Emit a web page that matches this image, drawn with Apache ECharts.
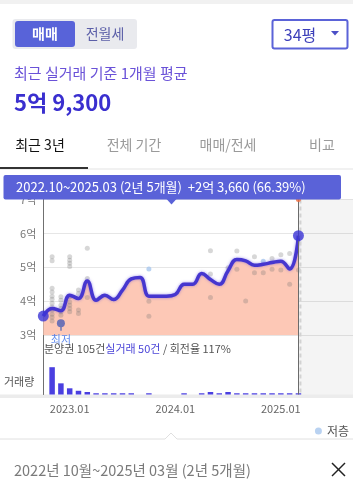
<!DOCTYPE html>
<html>
<head>
<meta charset="utf-8">
<script src="https://cdn.jsdelivr.net/npm/echarts@6/dist/echarts.min.js"></script>
<style>
html, body { margin: 0; padding: 0; background: #fff; }
#chart { width: 353px; height: 497px; }
</style>
</head>
<body>
<div id="chart"></div>
<script>
var FONT = "'Noto Sans CJK KR', 'Noto Sans', sans-serif";

// 월 (2022.10 ~ 2025.03)
var months = ['2022.10', '2022.11', '2022.12',
    '2023.01', '2023.02', '2023.03', '2023.04', '2023.05', '2023.06', '2023.07', '2023.08', '2023.09', '2023.10', '2023.11', '2023.12',
    '2024.01', '2024.02', '2024.03', '2024.04', '2024.05', '2024.06', '2024.07', '2024.08', '2024.09', '2024.10', '2024.11', '2024.12',
    '2025.01', '2025.02', '2025.03'];
var tickLabels = ['2023.01', '2024.01', '2025.01'];
var yTicks = [30000, 40000, 50000, 60000, 70000];

// 월별 실거래 평균 (만원)
var avgPrice = [35640, 37900, 37200, 41800, 40800, 46000, 40300, 41800, 40500, 43300,
    46600, 47000, 41500, 41500, 41500, 42000, 45000, 45000, 48200, 46400,
    45000, 49000, 52300, 51900, 50600, 50900, 51400, 51800, 49500, 59300];

// 개별 거래 [월 index, 만원]
var trades = [
    [1, 53100], [1, 51900], [1, 43800], [1, 42700], [1, 41500], [1, 40600], [1, 39400], [1, 38300], [1, 37400], [1, 36200], [1, 35300], [1, 34200],
    [2, 41300], [2, 40300], [2, 38800], [2, 37900], [2, 36900], [2, 35900],
    [3, 53100], [3, 52100], [3, 51200], [3, 50200], [3, 41300], [3, 39800], [3, 38800], [3, 37900], [3, 36900],
    [4, 43300], [4, 42300], [4, 37400], [4, 36400],
    [5, 55600], [5, 46700], [5, 41100],
    [12, 40000], [12, 35600],
    [19, 54900], [19, 48000], [19, 41100],
    [21, 49900],
    [22, 54800], [22, 49400],
    [23, 40100],
    [24, 53100], [24, 48400],
    [25, 48400],
    [26, 52600], [26, 49400],
    [27, 53700], [27, 49200],
    [28, 54100], [28, 45000],
    [29, 49200]
];
// 저층 거래
var lowFloorTrades = [[12, 49500], [25, 51800]];
// 최저 거래
var lowestTrade = [2, 33500];

// 월별 거래량 (건)
var volume = [0, 22, 9, 5, 3, 2, 1, 1, 1, 1, 1, 0, 1, 0, 0, 0, 1, 0, 1, 2, 1, 2, 1, 1, 1, 1, 1, 1, 1, 1];

var summaryParts = ['분양권 105건', '실거래 50건', ' / 회전율 117%'];
var tabs = ['최근 3년', '전체 기간', '매매/전세', '비교'];

function fmtMan(v) {
    var eok = Math.floor(v / 10000);
    var rest = v % 10000;
    return eok + '억 ' + rest.toLocaleString('en-US');
}

var last = avgPrice.length - 1;
var diff = avgPrice[last] - avgPrice[0];
var pct = (diff / avgPrice[0] * 100).toFixed(2);
var span = Math.floor(last / 12) + '년 ' + (last % 12) + '개월';
var bannerText = months[0] + '~' + months[last] + ' (' + span + ')  +' + fmtMan(diff) + ' (' + pct + '%)';
var periodText = months[0].replace('.', '년 ') + '월~' + months[last].replace('.', '년 ') + '월 (' + span + ')';

var chart = echarts.init(document.getElementById('chart'), null, { renderer: 'canvas' });

var xBase = { type: 'value', min: 0, max: 35.2, show: false };

var option = {
    animation: false,
    textStyle: { fontFamily: FONT },
    grid: [
        { left: 43.3, right: 0, top: 199.4, height: 135.8 },
        { left: 43.3, right: 0, top: 361, height: 33.5 },
        { left: 43.3, right: 0, top: 199.4, height: 195.1 }
    ],
    xAxis: [
        Object.assign({ gridIndex: 0 }, xBase),
        {
            gridIndex: 1, type: 'value', min: 0, max: 35.2,
            axisLine: { show: false }, axisTick: { show: false }, splitLine: { show: false },
            axisLabel: {
                customValues: tickLabels.map(function (t) { return months.indexOf(t); }),
                formatter: function (v) { return months[v]; },
                color: '#666', fontSize: 11, margin: 9, fontFamily: FONT
            }
        },
        Object.assign({ gridIndex: 2 }, xBase)
    ],
    yAxis: [
        {
            gridIndex: 0, type: 'value', min: yTicks[0], max: yTicks[yTicks.length - 1], interval: 10000,
            axisLine: { show: false }, axisTick: { show: false },
            splitLine: { lineStyle: { color: '#e6e6e6' } },
            axisLabel: {
                formatter: function (v) { return (v / 10000) + '억'; },
                color: '#777', fontSize: 11, margin: 7, fontFamily: FONT
            }
        },
        { gridIndex: 1, type: 'value', min: 0, max: 27, show: false },
        {
            gridIndex: 2, type: 'value', min: 0, max: 1,
            axisLine: { show: true, lineStyle: { color: '#707070', width: 1 } },
            axisTick: { show: false }, axisLabel: { show: false }, splitLine: { show: false }
        }
    ],
    legend: {
        data: [{ name: '저층', icon: 'circle' }],
        right: 4, top: 425, itemWidth: 7, itemHeight: 7, padding: 0,
        selectedMode: false,
        textStyle: { fontSize: 12, color: '#555', fontFamily: FONT }
    },
    series: [
        {
            // 미래 구간 배경 + 현재 시점 세로선
            type: 'scatter', xAxisIndex: 2, yAxisIndex: 2,
            data: [[last, 1]], symbolSize: 5,
            itemStyle: { color: '#f2693a' }, z: 6, silent: true,
            markArea: {
                silent: true,
                itemStyle: { color: 'rgba(0,0,0,0.045)' },
                data: [[{ xAxis: last }, { xAxis: 35.2 }]]
            },
            markLine: {
                silent: true, symbol: ['none', 'none'], label: { show: false },
                lineStyle: { color: '#6b6b6b', width: 1, type: 'solid' },
                data: [{ xAxis: last }]
            }
        },
        {
            type: 'line', xAxisIndex: 0, yAxisIndex: 0,
            data: avgPrice.map(function (v, i) { return [i, v]; }),
            smooth: 0.45, symbol: 'none',
            lineStyle: { width: 0, opacity: 0 },
            areaStyle: { color: '#fdc8b6', opacity: 1, origin: 'start' },
            z: 1, silent: true
        },
        {
            type: 'scatter', xAxisIndex: 0, yAxisIndex: 0,
            data: trades, symbolSize: 5,
            itemStyle: { color: 'rgba(110,110,110,0.35)' }, z: 2, silent: true
        },
        {
            name: '저층', type: 'scatter', xAxisIndex: 0, yAxisIndex: 0,
            data: lowFloorTrades, symbolSize: 5,
            itemStyle: { color: '#a8c7ee' }, z: 2, silent: true
        },
        {
            type: 'scatter', xAxisIndex: 0, yAxisIndex: 0,
            data: [lowestTrade], symbolSize: 8,
            itemStyle: { color: '#4b5cb5' }, z: 3, silent: true,
            label: {
                show: true, position: 'bottom', distance: 7,
                formatter: '최저', color: '#3a6ee8', fontSize: 11, fontFamily: FONT
            },
            markLine: {
                silent: true, symbol: ['none', 'none'], label: { show: false },
                lineStyle: { color: '#6b78b6', width: 1.5, type: 'solid' },
                data: [[{ coord: lowestTrade }, { coord: [lowestTrade[0], 31300] }]]
            }
        },
        {
            type: 'line', xAxisIndex: 0, yAxisIndex: 0,
            data: avgPrice.map(function (v, i) { return [i, v]; }),
            smooth: 0.45, symbol: 'none',
            lineStyle: { color: '#4636cf', width: 3.5, shadowColor: 'rgba(90,70,220,0.55)', shadowBlur: 3 },
            z: 4, silent: true
        },
        {
            type: 'scatter', xAxisIndex: 0, yAxisIndex: 0,
            data: [[0, avgPrice[0]], [last, avgPrice[last]]], symbolSize: 11,
            itemStyle: { color: '#3b35d6' }, z: 5, silent: true
        },
        {
            type: 'bar', xAxisIndex: 1, yAxisIndex: 1,
            data: volume.map(function (v, i) { return [i, v]; }),
            barWidth: 5.5, itemStyle: { color: '#4a3fe0' }, silent: true
        }
    ]
};

chart.setOption(option);

var nowX = chart.convertToPixel({ xAxisIndex: 2 }, last);
var topY = chart.convertToPixel({ yAxisIndex: 2 }, 1);
var botY = chart.convertToPixel({ yAxisIndex: 2 }, 0);

var tabX = [40, 134, 228, 322];
var graphic = [
    { type: 'rect', shape: { x: 0, y: 0, width: 353, height: 4 }, style: { fill: '#f1f1f1' } },
    // 매매 / 전월세 토글
    { type: 'rect', shape: { x: 12.5, y: 19, width: 124.5, height: 30, r: 3 }, style: { fill: '#e9eaee' } },
    { type: 'rect', shape: { x: 15, y: 21, width: 60, height: 26, r: 3 }, style: { fill: '#5863d9' } },
    { type: 'text', style: { x: 45, y: 34, text: '매매', fill: '#fff', font: 'bold 14px ' + FONT, textAlign: 'center', textVerticalAlign: 'middle' } },
    { type: 'text', style: { x: 105, y: 34, text: '전월세', fill: '#5b5fa8', font: '14px ' + FONT, textAlign: 'center', textVerticalAlign: 'middle' } },
    // 평형 선택
    { type: 'rect', shape: { x: 272.5, y: 20, width: 75, height: 28.5, r: 2 }, style: { fill: '#fff', stroke: '#5b63d8', lineWidth: 2 } },
    { type: 'text', style: { x: 300, y: 35, text: '34평', fill: '#3c3fba', font: '16px ' + FONT, textAlign: 'center', textVerticalAlign: 'middle' } },
    { type: 'polygon', shape: { points: [[331, 31], [339, 31], [335, 35.5]] }, style: { fill: '#4b4fc6' } },
    // 요약
    { type: 'text', style: { x: 14, y: 73.5, text: '최근 실거래 기준 1개월 평균', fill: '#6a52d8', font: '15px ' + FONT, textVerticalAlign: 'middle' } },
    { type: 'text', style: { x: 14, y: 103, text: fmtMan(avgPrice[last]), fill: '#3a2fcf', font: 'bold 22px ' + FONT, textVerticalAlign: 'middle' } },
    // 탭
    { type: 'rect', shape: { x: 0, y: 168.5, width: 353, height: 1 }, style: { fill: '#e3e3e3' } },
    { type: 'rect', shape: { x: 0, y: 167, width: 88, height: 2 }, style: { fill: '#333' } },
    // 기간 배너
    { type: 'rect', z: 100, shape: { x: 3.5, y: 175, width: 337.5, height: 24.5, r: 2 }, style: { fill: '#5a62d8' } },
    { type: 'polygon', z: 100, shape: { points: [[166.5, 199], [176.5, 199], [171.5, 204.5]] }, style: { fill: '#5a62d8' } },
    { type: 'text', z: 101, style: { x: 16, y: 187.5, text: bannerText, fill: '#fff', font: '13px ' + FONT, textVerticalAlign: 'middle' } },
    // 현재 시점 점선
    { type: 'line', z: 5, shape: { x1: nowX + 2, y1: topY, x2: nowX + 2, y2: botY }, style: { stroke: '#d2d2d2', lineWidth: 2, lineDash: [4, 3] } },
    // 거래 요약
    {
        type: 'text', z: 10, style: {
            x: 44, y: 348.5, textVerticalAlign: 'middle',
            text: '{a|' + summaryParts[0] + '}{b|' + summaryParts[1] + '}{a|' + summaryParts[2] + '}',
            rich: {
                a: { fill: '#555', font: '11px ' + FONT },
                b: { fill: '#4b45d8', font: '11px ' + FONT }
            }
        }
    },
    { type: 'text', style: { x: 4, y: 381.5, text: '거래량', fill: '#555', font: '11px ' + FONT, textVerticalAlign: 'middle' } },
    { type: 'rect', shape: { x: 0, y: 394.5, width: 353, height: 3.5 }, style: { fill: '#ececec' } },
    // 하단 구분선
    { type: 'polyline', shape: { points: [[0, 439], [165, 439], [171, 433], [177, 439], [353, 439]] }, style: { stroke: '#e0e0e0', lineWidth: 1, fill: null } },
    { type: 'text', style: { x: 14, y: 470.5, text: periodText, fill: '#7a7a7a', font: '14.5px ' + FONT, textVerticalAlign: 'middle' } },
    { type: 'line', shape: { x1: 332, y1: 463, x2: 345, y2: 476 }, style: { stroke: '#222', lineWidth: 1.5 } },
    { type: 'line', shape: { x1: 345, y1: 463, x2: 332, y2: 476 }, style: { stroke: '#222', lineWidth: 1.5 } }
];
tabs.forEach(function (t, i) {
    graphic.push({
        type: 'text', style: {
            x: tabX[i], y: 145, text: t, textAlign: 'center', textVerticalAlign: 'middle',
            fill: i === 0 ? '#111' : '#9a9a9a', font: '14px ' + FONT
        }
    });
});

chart.setOption({ graphic: graphic });
</script>
</body>
</html>
